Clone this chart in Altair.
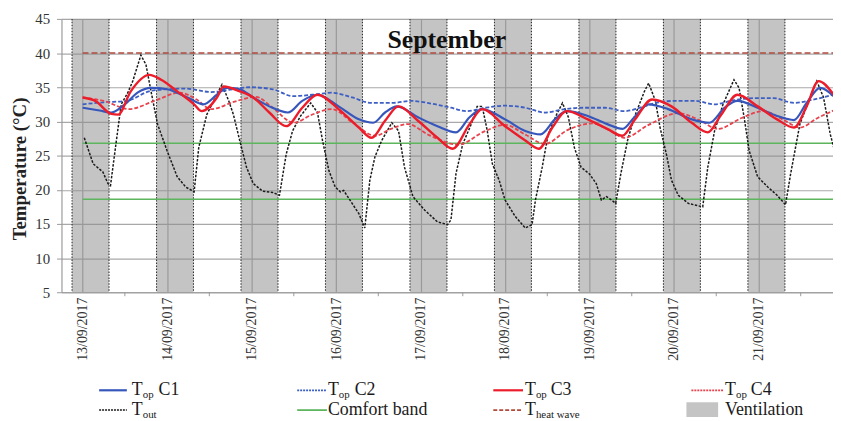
import altair as alt
import pandas as pd

FONT = "Liberation Serif"
BASE = pd.Timestamp("2017-09-13 00:00")

# ---- data (time in days since 13/09/2017 00:00, temperature in degC)
tout_t = [0.02, 0.125, 0.24, 0.30, 0.33, 0.40, 0.457, 0.535, 0.594, 0.69, 0.75, 0.81, 0.887, 1.0,
          1.12, 1.22, 1.32, 1.375, 1.47, 1.55, 1.65, 1.73, 1.785, 1.86, 1.94, 2.02, 2.13, 2.25,
          2.33, 2.41, 2.485, 2.58, 2.70, 2.78, 2.84, 2.915, 2.99, 3.05, 3.09, 3.19, 3.27, 3.34,
          3.40, 3.46, 3.54, 3.66, 3.74, 3.81, 3.91, 4.05, 4.20, 4.32, 4.36, 4.42, 4.50, 4.60,
          4.67, 4.73, 4.79, 4.85, 4.93, 5.00, 5.12, 5.24, 5.32, 5.36, 5.44, 5.51, 5.61, 5.68,
          5.75, 5.82, 5.90, 6.00, 6.08, 6.14, 6.20, 6.26, 6.31, 6.37, 6.45, 6.53, 6.65, 6.70,
          6.78, 6.835, 6.91, 6.97, 7.05, 7.17, 7.34, 7.40, 7.48, 7.58, 7.71, 7.77, 7.83, 7.89,
          7.99, 8.11, 8.22, 8.32, 8.38, 8.49, 8.61, 8.69, 8.77, 8.85, 8.89]
tout_v = [27.6, 23.8, 22.6, 20.9, 20.6, 27.2, 32.5, 34.2, 35.9, 39.7, 38.3, 34.4, 29.6, 25.7,
          21.9, 20.4, 19.7, 26.2, 31.0, 33.0, 35.4, 33.0, 31.0, 27.2, 23.3, 20.9, 19.8, 19.6,
          19.2, 25.2, 28.6, 30.8, 32.7, 31.3, 27.2, 22.8, 20.4, 19.7, 19.9, 18.0, 16.5, 14.4,
          21.4, 24.8, 27.2, 29.8, 28.6, 23.3, 19.0, 17.0, 15.3, 14.9, 15.6, 22.4, 26.7, 29.6,
          32.2, 32.2, 28.6, 23.8, 21.4, 18.5, 16.1, 14.4, 14.9, 18.5, 23.3, 28.1, 31.0, 32.7,
          30.6, 26.2, 23.3, 22.3, 20.9, 18.5, 19.0, 18.5, 18.0, 22.3, 27.2, 30.6, 34.4, 35.6,
          33.0, 29.1, 25.2, 21.4, 19.2, 18.0, 17.5, 23.3, 28.6, 32.5, 36.1, 34.9, 30.6, 25.7,
          21.9, 20.4, 19.2, 17.8, 22.3, 29.6, 33.5, 35.9, 33.5, 28.1, 26.2]

c1_t = [0.0, 0.2, 0.34, 0.50, 0.65, 0.81, 1.0, 1.24, 1.43, 1.59, 1.71, 1.86, 2.02, 2.21, 2.43,
        2.60, 2.78, 3.03, 3.27, 3.44, 3.58, 3.72, 3.97, 4.2, 4.42, 4.58, 4.73, 5.0, 5.24, 5.42,
        5.59, 5.73, 5.98, 6.21, 6.39, 6.53, 6.70, 6.93, 7.21, 7.42, 7.60, 7.75, 7.99, 8.22,
        8.42, 8.57, 8.73, 8.89]
c1_v = [32.0, 31.6, 31.3, 32.5, 34.2, 34.9, 34.7, 33.5, 32.5, 33.9, 34.9, 34.7, 33.5, 32.2, 31.3,
        33.0, 33.9, 32.2, 30.3, 29.8, 31.3, 32.2, 30.6, 29.3, 28.4, 30.6, 31.8, 30.3, 28.6, 28.1,
        30.3, 31.5, 30.8, 29.6, 28.9, 30.6, 32.5, 31.8, 30.3, 29.8, 32.0, 33.0, 32.0, 30.8,
        30.2, 32.7, 34.9, 33.7]

c2_t = [0.0, 0.25, 0.52, 0.82, 1.22, 1.52, 1.98, 2.25, 2.49, 2.72, 2.95, 3.19, 3.42, 3.66, 3.89,
        4.13, 4.36, 4.54, 4.77, 5.0, 5.24, 5.47, 5.71, 5.94, 6.18, 6.41, 6.65, 6.78, 7.01, 7.25,
        7.48, 7.71, 7.95, 8.18, 8.42, 8.65, 8.89]
c2_v = [32.5, 32.8, 33.0, 34.5, 34.8, 34.3, 35.0, 34.7, 33.7, 33.9, 34.2, 33.5, 32.7, 32.7, 33.0,
        32.6, 32.0, 31.5, 32.0, 32.3, 32.0, 31.3, 31.8, 32.0, 32.0, 31.5, 32.2, 32.7, 33.0, 33.0,
        32.5, 33.1, 33.4, 33.4, 32.7, 33.2, 33.9]

c3_t = [0.0, 0.15, 0.34, 0.42, 0.57, 0.79, 0.93, 1.12, 1.32, 1.41, 1.59, 1.67, 1.86, 2.02, 2.21,
        2.41, 2.60, 2.78, 3.03, 3.27, 3.42, 3.58, 3.74, 3.97, 4.2, 4.38, 4.58, 4.73, 5.0, 5.24,
        5.40, 5.56, 5.73, 5.98, 6.21, 6.39, 6.54, 6.74, 6.97, 7.21, 7.40, 7.56, 7.75, 7.99,
        8.22, 8.42, 8.57, 8.71, 8.89]
c3_v = [33.5, 33.0, 31.1, 31.0, 34.4, 36.8, 36.1, 34.4, 32.5, 31.5, 33.5, 35.1, 34.4, 33.5, 31.3,
        29.3, 32.0, 33.9, 31.8, 29.1, 27.6, 30.1, 32.2, 30.1, 27.6, 26.0, 29.6, 31.8, 29.3, 27.2,
        26.0, 29.1, 31.5, 30.3, 28.9, 27.9, 30.3, 33.2, 32.2, 29.8, 28.4, 31.0, 33.9, 32.2,
        30.3, 29.1, 32.2, 35.9, 33.9]

c4_t = [0.0, 0.25, 0.55, 0.85, 1.15, 1.35, 1.52, 1.8, 2.05, 2.25, 2.5, 2.7, 2.95, 3.2, 3.46,
        3.65, 3.85, 4.1, 4.45, 4.75, 5.0, 5.25, 5.47, 5.75, 6.03, 6.25, 6.41, 6.7, 7.05, 7.3,
        7.52, 7.8, 8.06, 8.3, 8.49, 8.7, 8.89]
c4_v = [33.5, 33.0, 31.8, 33.0, 34.2, 33.2, 31.8, 32.9, 33.6, 32.0, 29.8, 30.9, 31.8, 29.8, 27.9,
        28.9, 29.6, 28.0, 26.6, 28.5, 29.5, 28.0, 26.7, 28.8, 29.7, 28.6, 27.6, 29.5, 31.2, 30.2,
        28.9, 30.5, 31.5, 30.2, 29.1, 30.5, 31.6]

comfort_band = [18.6, 26.8]
heat_wave = [40.0]
vent_start = [-0.125, 0.875, 1.875, 2.875, 3.875, 4.875, 5.875, 6.875, 7.875]
vent_end = [0.3125, 1.3125, 2.3125, 3.3125, 4.3125, 5.3125, 6.3125, 7.3125, 8.3125]
noon_ticks = [0.5, 1.5, 2.5, 3.5, 4.5, 5.5, 6.5, 7.5, 8.5]
day_labels = [13, 14, 15, 16, 17, 18, 19, 20, 21]
y_ticks = [5, 10, 15, 20, 25, 30, 35, 40, 45]


def to_time(days):
    return BASE + pd.to_timedelta(days, unit="D")


END = pd.Timestamp("2017-09-21 21:10")
W, H = 779, 276

xscale = alt.Scale(domain=[alt.DateTime(year=2017, month=9, date=12, hours=18),
                           alt.DateTime(year=2017, month=9, date=21, hours=21, minutes=10)])
yscale = alt.Scale(domain=[5, 45], nice=False, zero=False)

xaxis = alt.Axis(values=[alt.DateTime(year=2017, month=9, date=d) for d in day_labels],
                 format="%d/%m/%Y", formatType="time", labelAngle=270, labelAlign="right",
                 labelBaseline="middle", labelFont=FONT, labelFontSize=14, labelColor="#333",
                 labelPadding=5, ticks=False, tickSize=0, grid=True, gridColor="#a8a8a8",
                 gridWidth=1.2, domainColor="#999", title=None, labelOverlap=False)
yaxis = alt.Axis(values=y_ticks, grid=True, gridColor="#a8a8a8", gridWidth=1.2,
                 domainColor="#999", tickColor="#999", tickSize=5, labelFont=FONT,
                 labelFontSize=15, labelColor="#333", labelPadding=7, labelOverlap=False,
                 title="Temperature (°C)", titleFont=FONT, titleFontSize=19,
                 titleFontWeight="bold", titleColor="#222", titleX=-42, titleY=151,
                 titleAngle=270, titleAlign="center", titleBaseline="middle")

X = lambda f: alt.X(f, type="temporal", scale=xscale, axis=xaxis)
Y = lambda f: alt.Y(f, type="quantitative", scale=yscale, axis=yaxis)
YTOP = alt.YDatum(45, type="quantitative", scale=yscale, axis=yaxis)
YBOT = alt.Y2Datum(5)

vent_df = pd.DataFrame({"start": to_time(vent_start), "end": to_time(vent_end)})
bands = alt.Chart(vent_df).mark_rect(color="#8a8a8a", opacity=0.5, clip=True).encode(
    x=X("start"), x2="end", y=YTOP, y2=YBOT)
edge_l = alt.Chart(vent_df).mark_rule(color="#333", strokeWidth=1.1, strokeDash=[1.5, 1.5], clip=True).encode(
    x=X("start"), y=YTOP, y2=YBOT)
edge_r = alt.Chart(vent_df).mark_rule(color="#333", strokeWidth=1.1, strokeDash=[1.5, 1.5], clip=True).encode(
    x=X("end"), y=YTOP, y2=YBOT)

noon_df = pd.DataFrame({"t": to_time(noon_ticks)})
noon = alt.Chart(noon_df).mark_rule(color="#999", strokeWidth=1).encode(
    x=X("t"), y=alt.value(H), y2=alt.value(H + 4))

comf_df = pd.DataFrame({"x": [BASE] * 2, "x2": [END] * 2, "y": comfort_band})
comfort = alt.Chart(comf_df).mark_rule(color="#5db55d", strokeWidth=1.6, clip=True).encode(
    x=X("x"), x2="x2", y=Y("y"))
hw_df = pd.DataFrame({"x": [BASE], "x2": [END], "y": heat_wave})
heat = alt.Chart(hw_df).mark_rule(color="#b04a3c", strokeWidth=1.5, strokeDash=[6, 3], clip=True).encode(
    x=X("x"), x2="x2", y=Y("y"))


def series(t, v, **kw):
    df = pd.DataFrame({"time": to_time(t), "temp": v})
    return alt.Chart(df).mark_line(clip=True, **kw).encode(x=X("time"), y=Y("temp"))


l_out = series(tout_t, tout_v, color="#1a1a1a", strokeWidth=1.5, strokeDash=[2.5, 1.5])
l_c2 = series(c2_t, c2_v, color="#3d5fc4", strokeWidth=1.8, strokeDash=[4, 2], interpolate="monotone")
l_c4 = series(c4_t, c4_v, color="#e8424c", strokeWidth=1.8, strokeDash=[4, 2], interpolate="monotone")
l_c1 = series(c1_t, c1_v, color="#3656bb", strokeWidth=2.2, interpolate="monotone")
l_c3 = series(c3_t, c3_v, color="#ec1c2a", strokeWidth=2.4, interpolate="monotone")

one = pd.DataFrame({"a": [0]})


def txt(s, x, y, size, weight="normal"):
    return alt.Chart(one).mark_text(text=s, align="left", baseline="middle", font=FONT,
                                    fontSize=size, fontWeight=weight, color="#1a1a1a").encode(
        x=alt.value(x), y=alt.value(y))


def sym(x1, x2, y, color, width, dash=None):
    kw = dict(color=color, strokeWidth=width)
    if dash:
        kw["strokeDash"] = dash
    return alt.Chart(one).mark_rule(**kw).encode(x=alt.value(x1), x2=alt.value(x2), y=alt.value(y))


title = alt.Chart(one).mark_text(text="September", font=FONT, fontSize=26, fontWeight="bold",
                                 color="#111", align="center", baseline="middle").encode(
    x=alt.value(389), y=alt.value(21))

R1, R2 = 375, 395
legend = [
    sym(38, 66, R1, "#3656bb", 2.2), txt("T", 71, R1, 18), txt("op", 82, R1 + 5, 11), txt("C1", 98, R1, 18),
    sym(238, 268, R1, "#3d5fc4", 1.8, [2, 1]), txt("T", 269, R1, 18), txt("op", 280, R1 + 5, 11), txt("C2", 296, R1, 18),
    sym(436, 466, R1, "#ec1c2a", 2.2), txt("T", 468, R1, 18), txt("op", 479, R1 + 5, 11), txt("C3", 494, R1, 18),
    sym(636, 668, R1, "#e8424c", 1.8, [2, 1]), txt("T", 670, R1, 18), txt("op", 681, R1 + 5, 11), txt("C4", 696, R1, 18),
    sym(38, 66, R2, "#1a1a1a", 1.5, [2, 1]), txt("T", 71, R2, 18), txt("out", 82, R2 + 5, 11),
    sym(238, 268, R2, "#5db55d", 1.8), txt("Comfort band", 269, R2, 18),
    sym(436, 466, R2, "#b04a3c", 1.6, [4, 2]), txt("T", 468, R2, 18), txt("heat wave", 479, R2 + 5, 11),
    alt.Chart(one).mark_rect(color="#c4c4c4").encode(x=alt.value(631), x2=alt.value(663),
                                                      y=alt.value(R2 - 8), y2=alt.value(R2 + 7)),
    txt("Ventilation", 670, R2, 18),
]

chart = alt.layer(bands, edge_l, edge_r, noon, comfort, heat, l_out, l_c2, l_c4, l_c1, l_c3,
                  title, *legend).properties(
    width=W, height=H,
    autosize=alt.AutoSizeParams(type="none"),
    padding={"left": 54, "top": 9, "right": 0, "bottom": 128},
).configure_view(stroke=None).configure(background="white")

chart.save("out.html", embed_options={"renderer": "svg", "actions": False})
